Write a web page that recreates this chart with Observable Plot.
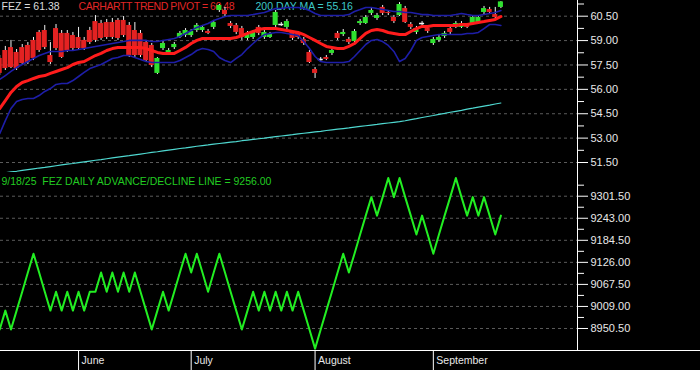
<!DOCTYPE html>
<html><head><meta charset="utf-8">
<script src="https://cdn.jsdelivr.net/npm/d3@7"></script>
<script src="https://cdn.jsdelivr.net/npm/@observablehq/plot@0.6"></script>
<style>
html,body{margin:0;padding:0;background:#000;}
#chart{position:relative;width:700px;height:370px;background:#000;overflow:hidden;}
#chart svg{display:block;}
#chart svg text{white-space:pre;}
#base{position:absolute;left:0;top:350px;width:700px;height:1px;background:#fff;}
</style></head><body><div id="chart"></div><script>
// ---- Data (trading-day index 0 = mid May 2025 ... 89 = 9/18/25) ----
const monthLabels = ["June", "July", "August", "September"];
const monthStartIndex = [14, 34, 56, 77];

const opens = [57.90,58.39,58.57,58.27,58.57,58.70,59.01,59.50,59.62,58.08,
 59.74,59.44,59.44,59.31,59.19,59.01,59.62,60.17,60.05,60.11,
 60.11,60.24,60.24,59.93,59.62,59.44,58.88,58.70,56.98,58.51,
 58.21,58.57,59.19,59.31,59.31,59.62,59.62,59.56,59.81,60.85,
 60.85,60.05,59.93,59.74,59.13,59.19,59.81,59.19,59.19,59.93,
 59.99,59.81,59.50,59.44,59.07,58.27,57.22,57.84,57.96,58.21,
 59.44,59.37,59.07,58.94,60.05,60.05,60.67,60.36,61.04,60.73,
 60.42,60.54,60.97,59.99,59.50,60.05,59.74,58.82,59.01,59.25,
 59.74,59.81,59.81,59.93,60.05,60.11,60.73,60.91,60.60,61.04];
const highs = [58.08,58.64,59.01,58.45,58.76,58.88,59.19,59.62,59.93,58.88,
 59.99,59.62,59.62,59.50,59.81,59.19,59.81,60.54,60.24,60.30,
 60.36,60.36,60.48,60.11,60.11,59.62,59.01,58.82,57.96,59.01,
 58.51,58.88,59.56,59.74,59.68,60.05,59.93,59.68,60.24,61.22,
 61.04,60.17,60.05,59.87,59.56,59.62,59.93,59.62,59.50,60.85,
 60.11,60.30,59.62,59.56,59.19,58.39,57.34,57.96,58.08,58.51,
 59.56,59.68,59.19,59.68,60.30,60.54,60.97,60.67,61.16,60.85,
 60.54,61.34,61.10,60.11,59.87,60.17,59.87,59.19,59.31,59.56,
 59.87,60.17,60.17,60.05,60.54,60.54,61.10,61.04,61.04,61.40];
const lows = [56.85,57.16,57.28,57.16,57.47,57.53,57.77,58.27,58.45,57.53,
 58.39,57.90,58.27,58.39,58.39,58.39,58.76,58.88,59.01,59.07,
 59.07,59.01,59.19,57.96,57.96,57.96,57.65,57.34,56.91,58.39,
 58.14,58.45,59.13,59.19,59.19,59.50,59.50,59.37,59.68,60.73,
 60.48,59.74,59.37,59.01,59.01,59.07,59.31,59.07,59.13,59.81,
 59.87,59.68,59.01,59.07,58.70,57.59,56.67,57.71,57.77,58.08,
 59.01,59.25,58.76,58.88,59.93,59.99,60.54,60.24,60.54,60.54,
 60.05,60.48,60.05,59.68,59.37,59.81,59.44,58.70,58.88,59.13,
 59.37,59.74,59.74,59.74,59.93,59.99,60.60,60.60,60.30,60.97];
const closes = [56.98,57.28,57.34,57.28,57.59,57.65,57.90,58.39,58.57,57.65,
 58.51,57.96,58.39,58.51,58.51,58.51,58.88,59.01,59.13,59.19,
 59.19,59.13,59.31,58.08,58.08,58.08,57.77,57.47,57.90,58.82,
 58.39,58.76,59.44,59.62,59.56,59.93,59.81,59.44,60.11,61.16,
 60.60,59.87,59.50,59.19,59.44,59.50,59.44,59.50,59.37,60.73,
 59.99,60.17,59.13,59.19,58.82,57.65,56.98,57.84,57.84,58.39,
 59.13,59.50,58.88,59.56,60.17,60.42,60.85,60.54,60.67,60.67,
 60.17,61.22,60.11,59.81,59.74,60.05,59.56,59.07,59.19,59.44,
 59.50,60.05,60.05,59.81,60.42,60.42,60.97,60.73,60.42,61.38];

const trendPivot = [54.82,55.31,55.81,56.18,56.42,56.54,56.67,56.79,56.85,56.98,
 57.10,57.22,57.34,57.53,57.65,57.71,57.90,58.08,58.21,58.39,
 58.51,58.58,58.58,58.58,58.58,58.58,58.51,58.39,58.27,58.21,
 58.21,58.21,58.39,58.58,58.82,59.01,59.13,59.13,59.13,59.13,
 59.13,59.13,59.19,59.31,59.44,59.56,59.68,59.74,59.74,59.74,
 59.68,59.62,59.56,59.50,59.37,59.19,59.01,58.82,58.64,58.58,
 58.51,58.51,58.64,58.82,59.13,59.44,59.62,59.68,59.62,59.50,
 59.44,59.37,59.37,59.56,59.74,59.87,59.87,59.93,59.93,59.93,
 59.93,59.93,59.99,59.99,60.05,60.11,60.17,60.24,60.30,60.48];
const upperBand = [56.61,56.85,57.10,57.34,57.53,57.71,57.90,58.08,58.21,58.33,
 58.33,58.33,58.39,58.39,58.45,58.51,58.58,58.64,58.70,58.76,
 58.82,58.88,58.94,59.01,59.01,59.01,59.01,58.94,58.94,59.01,
 59.07,59.13,59.25,59.44,59.62,59.81,59.93,60.05,60.24,60.36,
 60.48,60.54,60.54,60.54,60.54,60.60,60.67,60.73,60.85,60.97,
 60.97,61.04,61.04,61.04,60.97,60.85,60.67,60.54,60.54,60.54,
 60.54,60.54,60.60,60.79,60.91,61.04,61.04,60.97,60.91,60.85,
 60.79,60.79,60.73,60.73,60.67,60.60,60.60,60.54,60.54,60.54,
 60.54,60.60,60.67,60.60,60.54,60.54,60.60,60.67,60.73,60.85];
const lowerBand = [53.28,54.08,54.82,55.25,55.38,55.44,55.44,55.62,55.87,56.05,
 56.30,56.36,56.36,56.54,56.79,57.04,57.28,57.41,57.53,57.71,
 57.90,57.96,58.08,58.08,57.96,57.84,57.71,57.65,57.65,57.65,
 57.65,57.65,57.78,57.96,58.14,58.39,58.51,58.45,58.33,57.96,
 57.78,57.65,57.90,58.14,58.51,58.82,59.13,59.37,59.44,59.50,
 59.50,59.44,59.37,59.31,58.94,58.51,58.02,57.71,57.65,57.65,
 57.65,57.65,57.71,58.02,58.39,58.76,59.01,59.07,58.94,58.70,
 58.33,57.71,57.90,58.39,59.01,59.19,59.25,59.31,59.37,59.37,
 59.37,59.37,59.37,59.44,59.44,59.50,59.74,59.99,59.99,59.93];
const ma200 = [50.82,50.87,50.92,50.96,51.01,51.06,51.11,51.16,51.20,51.25,
 51.30,51.35,51.40,51.44,51.49,51.54,51.59,51.64,51.68,51.73,
 51.78,51.83,51.88,51.92,51.97,52.02,52.07,52.12,52.16,52.21,
 52.26,52.31,52.36,52.40,52.45,52.50,52.54,52.58,52.63,52.67,
 52.71,52.75,52.79,52.84,52.88,52.92,52.96,53.00,53.05,53.09,
 53.13,53.17,53.21,53.26,53.30,53.34,53.38,53.42,53.47,53.51,
 53.55,53.59,53.63,53.68,53.72,53.76,53.80,53.84,53.89,53.93,
 53.97,54.01,54.07,54.14,54.20,54.27,54.33,54.39,54.46,54.52,
 54.59,54.65,54.71,54.78,54.84,54.91,54.97,55.03,55.10,55.16];
const adLine = [8948,8998,8948,8998,9048,9099,9149,9099,9048,8998,
 9048,8998,9048,8998,9048,8998,9048,9048,9099,9048,
 9099,9048,9099,9048,9099,9048,8998,8948,8998,9048,
 8998,9048,9099,9149,9099,9149,9099,9048,9099,9149,
 9099,9048,8998,8948,8998,9048,8998,9048,8998,9048,
 8998,9048,8998,9048,8998,8948,8897,8948,8998,9048,
 9099,9149,9099,9149,9200,9250,9299,9250,9299,9350,
 9299,9350,9299,9250,9200,9250,9200,9149,9200,9250,
 9299,9350,9299,9250,9299,9250,9299,9250,9200,9250];

const priceTicks = [60.50, 59.00, 57.50, 56.00, 54.50, 53.00, 51.50];
const priceMinorTicks = [61.25, 59.75, 58.25, 56.75, 55.25, 53.75, 52.25];
const adTicks = [9301.50, 9243.00, 9184.50, 9126.00, 9067.50, 9009.00, 8950.50];
const adMinorTicks = [9330.75, 9272.25, 9213.75, 9155.25, 9096.75, 9038.25, 8979.75];

const legendFez = "FEZ = 61.38";
const legendPivot = "CARHARTT TREND PIVOT = 60.48";
const legendMA = "200 DAY MA = 55.16";
const legendAD = "9/18/25  FEZ DAILY ADVANCE/DECLINE LINE = 9256.00";

// ---- Build ----
const candles = opens.map((o, i) => ({i, open: o, high: highs[i], low: lows[i], close: closes[i]}));
const dojis = candles.filter(d => d.open === d.close);
const months = monthLabels.map((label, k) => ({label, i: monthStartIndex[k]}));

const FONT = "'Liberation Sans', Arial, sans-serif";
const xDomain = [0.14, 102.6];
const RED = "#e42222", GREEN = "#2fe02f", BLUE = "#1e1ea8", CYAN = "#4fd8d0";
const GRID = {stroke: "#7a7a7a", strokeOpacity: 0.75, strokeDasharray: "3,3"};
const LEG = 10.5;
const common = {
  width: 700, marginLeft: 0, marginRight: 123, marginTop: 0,
  style: {background: "transparent", color: "#e8e8e8", fontFamily: FONT, fontSize: "11px", overflow: "visible"},
  x: {domain: xDomain, axis: null}
};

const upper = Plot.plot({
  ...common, height: 172, marginBottom: 0,
  y: {domain: [50.885, 61.466], axis: null},
  marks: [
    Plot.gridY(priceTicks, GRID),
    Plot.axisY(priceMinorTicks, {anchor: "right", tickSize: 6, tickFormat: () => "", stroke: "#fff", label: null}),
    Plot.axisY(priceTicks, {anchor: "right", tickSize: 10, tickPadding: 3, tickFormat: d => d.toFixed(2), stroke: "#fff", fill: "#e8e8e8", label: null, fontSize: 11}),
    Plot.ruleX([xDomain[1]], {stroke: "#fff"}),
    Plot.text([legendFez], {text: d => d, frameAnchor: "top-left", dx: 1, dy: 2, lineAnchor: "top", fill: "#dcdcdc", fontSize: LEG}),
    Plot.text([legendPivot], {text: d => d, frameAnchor: "top-left", dx: 78, dy: 2, lineAnchor: "top", fill: "#e02626", fontSize: LEG}),
    Plot.text([legendMA], {text: d => d, frameAnchor: "top-left", dx: 255, dy: 2, lineAnchor: "top", fill: "#3ec8c8", fontSize: LEG}),
    Plot.lineY(ma200, {stroke: CYAN, strokeWidth: 1.2, clip: true}),
    Plot.ruleX(candles, {x: "i", y1: "low", y2: "high", stroke: "#f2f2f2", strokeWidth: 1, clip: true}),
    Plot.rect(candles.filter(d => d.open !== d.close), {
      x1: d => d.i - 0.45, x2: d => d.i + 0.45, y1: "open", y2: "close",
      fill: d => d.close > d.open ? GREEN : RED, clip: true
    }),
    Plot.ruleY(dojis, {y: "close", x1: d => d.i - 0.45, x2: d => d.i + 0.45, stroke: "#f2f2f2", strokeWidth: 1.5, clip: true}),
    Plot.lineY(upperBand, {stroke: BLUE, strokeWidth: 1.6, clip: true}),
    Plot.lineY(lowerBand, {stroke: BLUE, strokeWidth: 1.6, clip: true}),
    Plot.lineY(trendPivot, {stroke: "#ff1c1c", strokeWidth: 3, clip: true})
  ]
});

const lower = Plot.plot({
  ...common, height: 198, marginBottom: 20,
  y: {domain: [8892.1, 9364.4], axis: null},
  marks: [
    Plot.gridY(adTicks, GRID),
    Plot.axisY(adMinorTicks, {anchor: "right", tickSize: 6, tickFormat: () => "", stroke: "#fff", label: null}),
    Plot.axisY(adTicks, {anchor: "right", tickSize: 10, tickPadding: 3, tickFormat: d => d.toFixed(2), stroke: "#fff", fill: "#e8e8e8", label: null, fontSize: 11}),
    Plot.ruleX([xDomain[1]], {stroke: "#fff"}),
    Plot.text([legendAD], {text: d => d, frameAnchor: "top-left", dx: 1, dy: 5, lineAnchor: "top", fill: "#22cc22", fontSize: LEG}),
    Plot.lineY(adLine, {stroke: "#22ee22", strokeWidth: 2, clip: true}),
    Plot.axisX(monthStartIndex, {anchor: "bottom", tickSize: 20, tickFormat: () => "", stroke: "#fff", label: null}),
    Plot.text(months, {x: "i", text: "label", frameAnchor: "bottom", dy: 10, dx: 3, textAnchor: "start", lineAnchor: "middle", fill: "#e8e8e8", fontSize: LEG})
  ]
});

const root = document.getElementById("chart");
root.appendChild(upper);
root.appendChild(lower);
// tighten the pivot legend so it fits before the MA legend, as in the original
for (const t of upper.querySelectorAll("text")) {
  if (t.textContent === legendPivot) t.style.letterSpacing = "-0.45px";
}
const base = document.createElement("div");
base.id = "base";
root.appendChild(base);
</script></body></html>
